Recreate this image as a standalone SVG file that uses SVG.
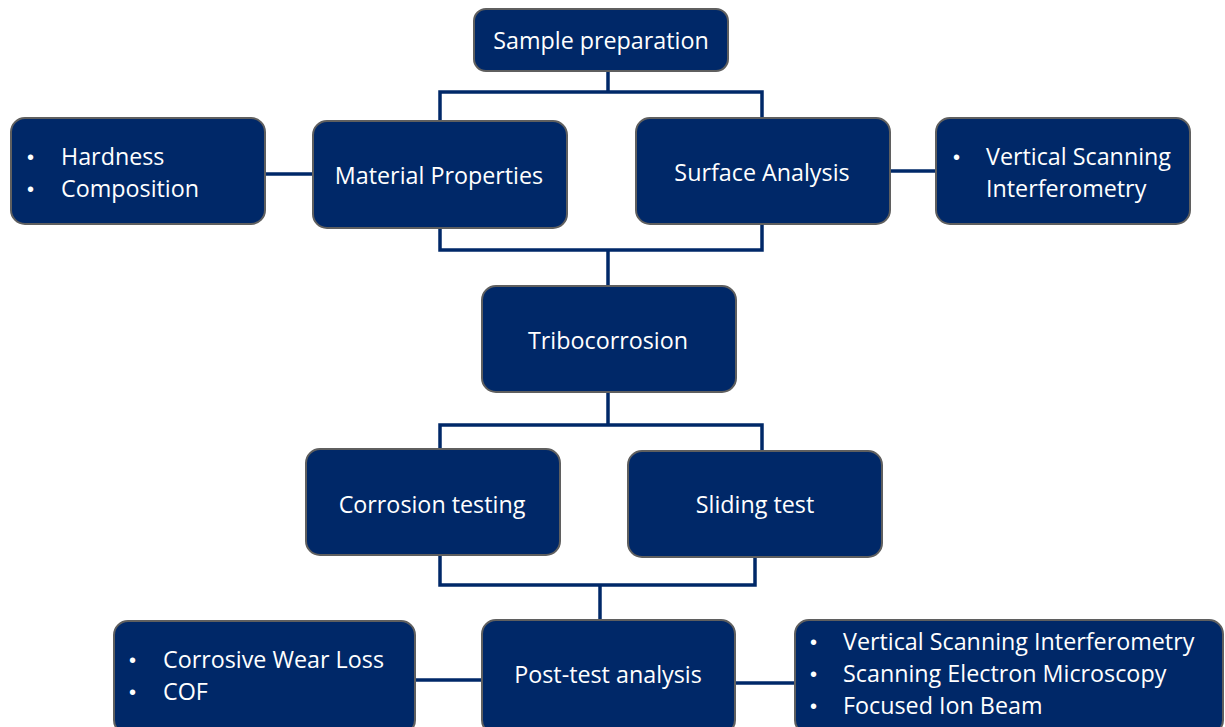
<svg xmlns="http://www.w3.org/2000/svg" width="1225" height="727" viewBox="0 0 1225 727">
<style>
.box{fill:#002868;stroke:#5f5f5f;stroke-width:2}
.t{font-family:"Open Sans",Lato,"Liberation Sans",sans-serif;font-size:23.3px;fill:#ffffff}
.b{font-family:"Liberation Sans",sans-serif;font-size:20px;fill:#ffffff}
.c{text-anchor:middle;dominant-baseline:central}
.con{fill:none;stroke:#002868;stroke-width:3.5}
</style>
<rect width="1225" height="727" fill="#ffffff"/>
<g id="connectors">
<polyline class="con" points="608,71 608,92"/>
<polyline class="con" points="440,121 440,92 762,92 762,118"/>
<polyline class="con" points="265,174 313,174"/>
<polyline class="con" points="890,171 936,171"/>
<polyline class="con" points="440,228 440,250 762,250 762,224"/>
<polyline class="con" points="608,250 608,287"/>
<polyline class="con" points="608,392 608,425"/>
<polyline class="con" points="440,449 440,425 762,425 762,451"/>
<polyline class="con" points="440,555 440,585 755,585 755,557"/>
<polyline class="con" points="600,585 600,621"/>
<polyline class="con" points="415,680 482,680"/>
<polyline class="con" points="735,683 795,683"/>
</g>
<g id="sample-preparation">
<rect class="box" x="474" y="9" width="254" height="62" rx="12"/>
<text class="t c" x="601" y="40">Sample preparation</text>
</g>
<g id="hardness">
<rect class="box" x="11" y="118" width="254" height="106" rx="14"/>
<text class="b" x="27" y="164">•</text><text class="t" x="61" y="165">Hardness</text>
<text class="b" x="27" y="196">•</text><text class="t" x="61" y="197">Composition</text>
</g>
<g id="material-properties">
<rect class="box" x="313" y="121" width="254" height="107" rx="14"/>
<text class="t c" x="439" y="175">Material Properties</text>
</g>
<g id="surface-analysis">
<rect class="box" x="636" y="118" width="254" height="106" rx="14"/>
<text class="t c" x="762" y="172">Surface Analysis</text>
</g>
<g id="vsi">
<rect class="box" x="936" y="118" width="254" height="106" rx="14"/>
<text class="b" x="953" y="164">•</text><text class="t" x="986" y="165">Vertical Scanning</text>
<text class="t" x="986" y="197">Interferometry</text>
</g>
<g id="tribocorrosion">
<rect class="box" x="482" y="286" width="254" height="106" rx="14"/>
<text class="t c" x="608" y="340">Tribocorrosion</text>
</g>
<g id="corrosion-testing">
<rect class="box" x="306" y="449" width="254" height="106" rx="14"/>
<text class="t c" x="432" y="504">Corrosion testing</text>
</g>
<g id="sliding-test">
<rect class="box" x="628" y="451" width="254" height="106" rx="14"/>
<text class="t c" x="755" y="504">Sliding test</text>
</g>
<g id="post-test-analysis">
<rect class="box" x="482" y="620" width="253" height="114" rx="14"/>
<text class="t c" x="608" y="674">Post-test analysis</text>
</g>
<g id="wear-loss">
<rect class="box" x="114" y="621" width="301" height="113" rx="14"/>
<text class="b" x="129" y="667">•</text><text class="t" x="163" y="668">Corrosive Wear Loss</text>
<text class="b" x="129" y="699">•</text><text class="t" x="163" y="700">COF</text>
</g>
<g id="post-methods">
<rect class="box" x="795" y="620" width="428" height="114" rx="14"/>
<text class="b" x="810" y="649">•</text><text class="t" x="843" y="650">Vertical Scanning Interferometry</text>
<text class="b" x="810" y="681">•</text><text class="t" x="843" y="682">Scanning Electron Microscopy</text>
<text class="b" x="810" y="713">•</text><text class="t" x="843" y="714">Focused Ion Beam</text>
</g>
</svg>
